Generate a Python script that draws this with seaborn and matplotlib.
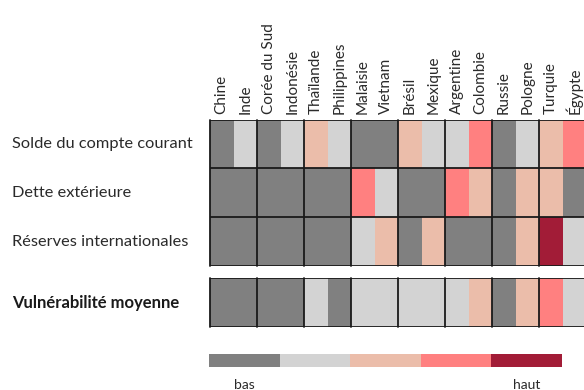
import numpy as np
import pandas as pd
import matplotlib
matplotlib.use("Agg")
import matplotlib.pyplot as plt
import seaborn as sns
from matplotlib.colors import ListedColormap

countries = ["Chine", "Inde", "Corée du Sud", "Indonésie", "Thaïlande", "Philippines",
             "Malaisie", "Vietnam", "Brésil", "Mexique", "Argentine", "Colombie",
             "Russie", "Pologne", "Turquie", "Égypte"]
indicators = ["Solde du compte courant", "Dette extérieure", "Réserves internationales"]
solde = [1, 2, 1, 2, 3, 2, 1, 1, 3, 2, 2, 4, 1, 2, 3, 4]
dette = [1, 1, 1, 1, 1, 1, 4, 2, 1, 1, 4, 3, 1, 3, 3, 1]
reserves = [1, 1, 1, 1, 1, 1, 2, 3, 1, 3, 1, 1, 1, 3, 5, 2]
moyenne_label = "Vulnérabilité moyenne"
moyenne = [1, 1, 1, 1, 2, 1, 2, 2, 2, 2, 2, 3, 1, 3, 4, 2]
legend_levels = [1, 2, 3, 4, 5]
legend_labels = ["bas", "haut"]

palette = ["#808080", "#d3d3d3", "#ebbdaa", "#ff8080", "#a21c37"]
cmap = ListedColormap(palette)

sns.set_theme(style="white")
plt.rcParams["font.family"] = ["Lato", "DejaVu Sans"]

W, H = 584, 390
fig = plt.figure(figsize=(W / 100, H / 100), dpi=100)

def fx(px):
    return px / W

def fy(py):
    return 1 - py / H

x0, x1 = 210, 586
ax1 = fig.add_axes([fx(x0), fy(266), fx(x1 - x0), (266 - 119.5) / H])
ax2 = fig.add_axes([fx(x0), fy(327.3), fx(x1 - x0), (327.3 - 278.3) / H])
axl = fig.add_axes([fx(209), fy(367.3), fx(561.7 - 209), 13.3 / H])

df1 = pd.DataFrame([solde, dette, reserves], index=indicators, columns=countries)
df2 = pd.DataFrame([moyenne], index=[moyenne_label], columns=countries)

kw = dict(cmap=cmap, vmin=0.5, vmax=5.5, cbar=False, linewidths=0, square=False)
sns.heatmap(df1, ax=ax1, **kw)
sns.heatmap(df2, ax=ax2, **kw)

txt_c = "#2a2a2a"
line_c = "#1a1a1a"
for ax, nrows in ((ax1, 3), (ax2, 1)):
    for xv in range(0, len(countries) + 1, 2):
        ax.axvline(xv, color=line_c, lw=1.3, clip_on=False)
    for yv in range(0, nrows + 1):
        ax.axhline(yv, color=line_c, lw=1.3)
    ax.tick_params(axis="both", length=0)
    ax.tick_params(axis="y", pad=142.5)
    for lab in ax.get_yticklabels():
        lab.set_rotation(0)
        lab.set_ha("left")
        lab.set_fontsize(11.8)
        lab.set_color(txt_c)
    ax.set_xlabel("")
    ax.set_ylabel("")

for lab in ax2.get_yticklabels():
    lab.set_fontweight("bold")
    lab.set_fontsize(12)
    lab.set_color("#1a1a1a")
ax2.set_xticks([])

ax1.xaxis.tick_top()
ax1.set_xticks(np.arange(len(countries)) + 0.5)
ax1.set_xticklabels(countries, rotation=90, fontsize=11, color=txt_c, va="bottom")
ax1.tick_params(axis="x", pad=4)

# legend strip
sns.heatmap(pd.DataFrame([legend_levels]), ax=axl, cmap=cmap, vmin=0.5, vmax=5.5,
            cbar=False, linewidths=0, xticklabels=False, yticklabels=False)
axl.text(0.5, 2.3, legend_labels[0], ha="center", va="center", fontsize=10,
         color=txt_c)
axl.text(len(legend_levels) - 0.5, 2.3, legend_labels[1], ha="center", va="center",
         fontsize=10, color=txt_c)
for sp in axl.spines.values():
    sp.set_visible(False)

fig.savefig("out.png", dpi=100)
